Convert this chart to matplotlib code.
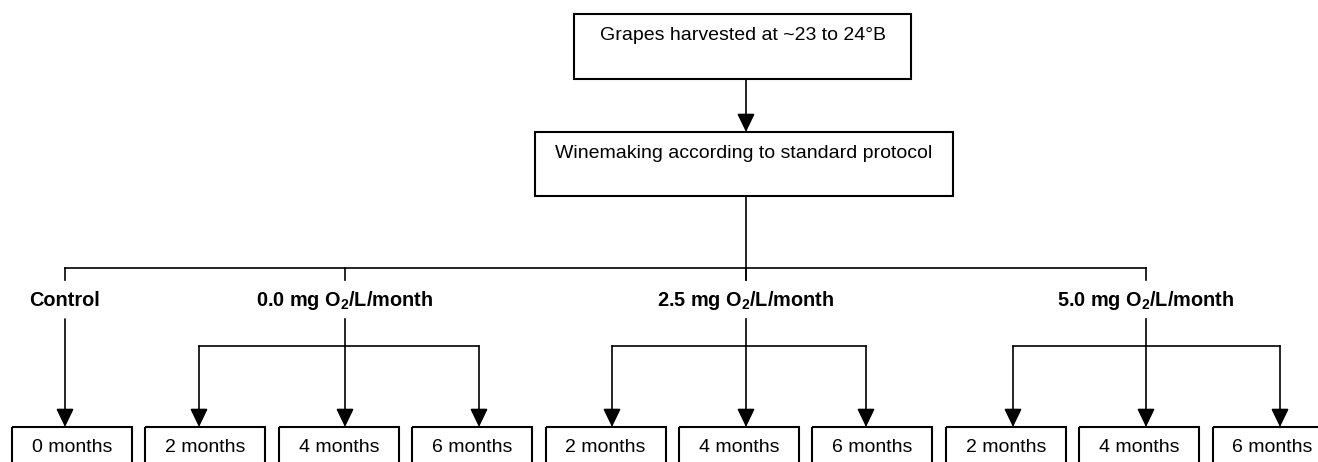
import matplotlib.pyplot as plt
from matplotlib.patches import Rectangle

plt.rcParams['font.family'] = ['Liberation Sans', 'DejaVu Sans']
plt.rcParams['mathtext.fontset'] = 'custom'
plt.rcParams['mathtext.rm'] = 'Liberation Sans'
plt.rcParams['mathtext.bf'] = 'Liberation Sans:bold'

top_steps = ["Grapes harvested at ~23 to 24°B",
             "Winemaking according to standard protocol"]
treatments = ["Control",
              r"0.0 mg O$_\mathbf{2}$/L/month",
              r"2.5 mg O$_\mathbf{2}$/L/month",
              r"5.0 mg O$_\mathbf{2}$/L/month"]
durations = [["0 months"],
             ["2 months", "4 months", "6 months"],
             ["2 months", "4 months", "6 months"],
             ["2 months", "4 months", "6 months"]]

# layout (pixel units, y down)
W, H = 1318, 462
top_boxes = [(574, 14, 337, 65), (535, 132, 418, 64)]
spine_x = 746
bar_y = 268
label_y = 300
branch_y = 346
box_top = 427
group_x = [65, 345, 746, 1146]
child_x = [[65], [199, 345, 479], [612, 746, 866], [1013, 1146, 1280]]
box_left0, box_pitch, box_w = 12, 133.4, 120

lw_box = 1.5
lw_line = 1.2
fs = 14

fig = plt.figure(figsize=(W / 100, H / 100), dpi=100)
ax = fig.add_axes([0, 0, 1, 1])
ax.set_xlim(0, W)
ax.set_ylim(H, 0)
ax.set_axis_off()


def arrow(x, y0, y1):
    ax.annotate('', xy=(x, y1), xytext=(x, y0),
                arrowprops=dict(arrowstyle='-|>,head_length=0.56,head_width=0.27',
                                color='black', lw=lw_line, mutation_scale=20,
                                shrinkA=0, shrinkB=0))


# top boxes
for (x, y, w, h), txt in zip(top_boxes, top_steps):
    ax.add_patch(Rectangle((x, y), w, h, fill=False, ec='black', lw=lw_box))
    ax.text(x + w / 2, y + 21, txt, ha='center', va='center', fontsize=fs)

arrow(spine_x, top_boxes[0][1] + top_boxes[0][3], top_boxes[1][1])
ax.plot([spine_x, spine_x], [top_boxes[1][1] + top_boxes[1][3], bar_y + 12],
        color='black', lw=lw_line)
ax.plot([group_x[0], group_x[-1]], [bar_y, bar_y], color='black', lw=lw_line)

k = 0
for i, (gx, lab, kids, durs) in enumerate(zip(group_x, treatments, child_x, durations)):
    ax.plot([gx, gx], [bar_y, bar_y + 12], color='black', lw=lw_line)
    ax.text(gx, label_y, lab, ha='center', va='center', fontsize=fs + 0.3,
            fontweight='bold')
    if len(kids) == 1:
        arrow(kids[0], 319, box_top)
    else:
        ax.plot([gx, gx], [319, branch_y], color='black', lw=lw_line)
        ax.plot([kids[0], kids[-1]], [branch_y, branch_y], color='black', lw=lw_line)
        for cx in kids:
            arrow(cx, branch_y, box_top)
    for d in durs:
        bx = box_left0 + k * box_pitch
        ax.add_patch(Rectangle((bx, box_top), box_w, 60, fill=False,
                               ec='black', lw=lw_box, clip_on=True))
        ax.text(bx + box_w / 2, 447, d, ha='center', va='center', fontsize=fs)
        k += 1

fig.savefig('out.png', dpi=100)
